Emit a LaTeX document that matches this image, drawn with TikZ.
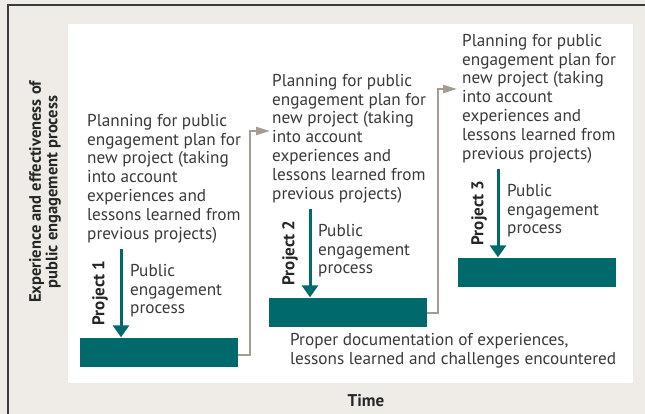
\documentclass[tikz,border=0pt]{standalone}
\usepackage{fontspec}
\setmainfont{PT Sans}
\usetikzlibrary{arrows.meta}
\definecolor{paper}{RGB}{239,236,231}
\definecolor{frameline}{RGB}{60,60,60}
\definecolor{teal}{RGB}{0,105,108}
\definecolor{linkgray}{RGB}{164,155,147}
\definecolor{inkgray}{RGB}{58,58,58}
\tikzset{
  body/.style={font=\fontsize{17.2}{18.8}\selectfont, text=inkgray, inner sep=0pt, align=left, anchor=north west},
  projlabel/.style={font=\fontsize{17}{18.8}\selectfont\bfseries, text=black!85, rotate=90, inner sep=0pt},
  phasebox/.style={fill=teal, minimum width=158pt, minimum height=29pt, inner sep=0pt},
  flowarrow/.style={draw=teal, line width=3pt, -{Triangle[width=16pt,length=12pt]}},
  linkarrow/.style={draw=linkgray, line width=2.2pt, -{Triangle[width=8pt,length=14pt]}}
}
\begin{document}
\begin{tikzpicture}[x=1pt,y=-1pt]
\useasboundingbox (0,0) rectangle (645,414);
% background and frame
\fill[paper] (0,0) rectangle (645,414);
\draw[frameline, line width=1.5pt] (8,414) -- (8,5) -- (645,5);
\fill[white] (68,24) rectangle (633,383);

% project bars
\node[phasebox] (b1) at (159,352) {};
\node[phasebox] (b2) at (347.5,312) {};
\node[phasebox] (b3) at (537,272) {};

% planning texts
\node[body] (p1) at (87,114) {Planning for public\\engagement plan for\\new project (taking\\into account\\experiences and\\lessons learned from\\previous projects)};
\node[body] (p2) at (272,74) {Planning for public\\engagement plan for\\new project (taking\\into account\\experiences and\\lessons learned from\\previous projects)};
\node[body] (p3) at (462,34) {Planning for public\\engagement plan for\\new project (taking\\into account\\experiences and\\lessons learned from\\previous projects)};

% public engagement arrows
\coordinate (a1) at (121,249);
\coordinate (a2) at (310,209);
\coordinate (a3) at (498,169);
\draw[flowarrow] (a1) -- (a1 |- b1.north);
\draw[flowarrow] (a2) -- (a2 |- b2.north);
\draw[flowarrow] (a3) -- (a3 |- b3.north);

\node[projlabel] (l1) at (100,293) {Project 1};
\node[projlabel] (l2) at (290,253) {Project 2};
\node[projlabel] (l3) at (479,213) {Project 3};

\node[body] (e1) at (130,264) {Public\\engagement\\process};
\node[body] (e2) at (318,224) {Public\\engagement\\process};
\node[body] (e3) at (507,184) {Public\\engagement\\process};

% links from one project to the next
\coordinate (k1) at (250,131);
\coordinate (k2) at (438,89);
\coordinate (t1) at (270,131);
\coordinate (t2) at (457,89);
\draw[linkarrow] (b1.east |- 0,355) -| (k1) -- (t1);
\draw[linkarrow] (b2.east |- 0,313) -| (k2) -- (t2);

% documentation note
\node[body] (doc) at (290,333) {Proper documentation of experiences,\\lessons learned and challenges encountered};

% axes labels
\node[font=\fontsize{16.5}{16.5}\selectfont\bfseries, text=black!85, rotate=90, align=center, inner sep=0pt] (yl) at (45,192) {Experience and effectiveness of\\public engagement process};
\node[font=\fontsize{17}{18.8}\selectfont\bfseries, text=black!85, inner sep=0pt] (xl) at (366,401) {Time};
\end{tikzpicture}
\end{document}
